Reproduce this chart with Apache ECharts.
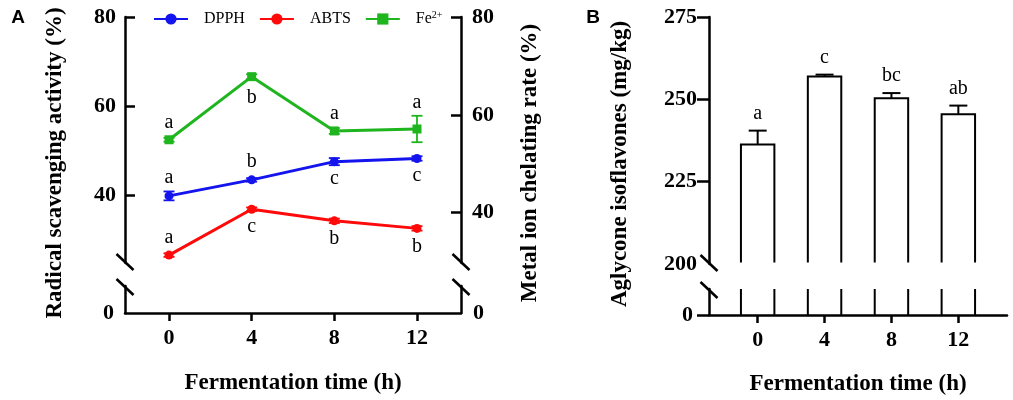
<!DOCTYPE html>
<html><head><meta charset="utf-8">
<script src="https://cdn.jsdelivr.net/npm/echarts@6/dist/echarts.min.js"></script>
<style>html,body{margin:0;padding:0;background:#fff}#c{width:1013px;height:400px}</style>
</head><body><div id="c"></div>
<script>
// ---------- data ----------
const times = [0, 4, 8, 12];
const dpph = [39.8, 43.4, 47.5, 48.2];
const dpphErr = [1.0, 0.4, 0.8, 0.5];
const dpphLetters = ['a', 'b', 'c', 'c'];
const abts = [26.5, 36.8, 34.2, 32.5];
const abtsErr = [0.4, 0.4, 0.5, 0.5];
const abtsLetters = ['a', 'c', 'b', 'b'];
const fe = [54.9, 67.8, 56.7, 57.1];
const feErr = [0.4, 0.5, 0.6, 2.7];
const feLetters = ['a', 'b', 'a', 'a'];
const aglycone = [236.3, 256.9, 250.3, 245.5];
const aglyconeErr = [4.2, 0.6, 1.6, 2.6];
const aglyconeLetters = ['a', 'c', 'bc', 'ab'];
const leftTicksA = [40, 60, 80];
const rightTicksA = [40, 60, 80];
const zeroTick = [0];
const ticksB = [225, 250, 275];
const labelsB = [200, 225, 250, 275];
const xTicks = [0, 4, 8, 12];
const seriesNames = ['DPPH', 'ABTS', 'Fe2+'];

// ---------- layout / style ----------
const SERIF = "'Liberation Serif','Times New Roman',serif";
const SANS = "'Liberation Sans',Arial,sans-serif";
const BLUE = '#1414ee', RED = '#ff0a0a', GREEN = '#1fb51f';
const A = {l: 125, r: 461, t: 17, ub: 263, lt: 286, lb: 313};
const B = {l: 709, r: 1007, t: 17, ub: 264, lt: 289, lb: 315};
const AX_LINE = {color: '#000', width: 2.5};
const A_X = [-2.13, 14.13], B_X = [-2.91, 14.91];
const A_LEFT = [24.72, 80], A_RIGHT = [29.7, 80], B_UP = [200, 275], LOW = [0, 10];
const TICK_FONT = 22, TITLE_FONT = 23;

const chart = echarts.init(document.getElementById('c'));

function xAxisCfg(grid, range, visible) {
  if (!visible) return {gridIndex: grid, type: 'value', min: range[0], max: range[1], show: false};
  return {
    gridIndex: grid, type: 'value', min: range[0], max: range[1],
    axisLine: {show: true, onZero: false, lineStyle: AX_LINE},
    axisTick: {show: true, customValues: xTicks, length: 8, inside: false, lineStyle: AX_LINE},
    axisLabel: {customValues: xTicks, margin: 14, color: '#000', fontFamily: SERIF, fontWeight: 'bold', fontSize: TICK_FONT},
    splitLine: {show: false}
  };
}
function yAxisCfg(grid, pos, range, ticks, labels, opts) {
  return {
    gridIndex: grid, type: 'value', position: pos, min: range[0], max: range[1],
    axisLine: {show: true, onZero: false, lineStyle: AX_LINE},
    axisTick: ticks ? {show: true, customValues: ticks, length: opts.len, inside: opts.inside, lineStyle: AX_LINE} : {show: false},
    axisLabel: {customValues: labels, margin: opts.margin, color: '#000', fontFamily: SERIF, fontWeight: 'bold', fontSize: TICK_FONT},
    splitLine: {show: false}
  };
}

function errSeries(xi, yi, vals, errs, color, cap, lw, upOnly) {
  return {
    type: 'custom', xAxisIndex: xi, yAxisIndex: yi, z: 4, silent: true,
    data: times.map((t, i) => [t, vals[i], errs[i]]),
    encode: {x: 0, y: 1},
    renderItem: function (params, api) {
      const x = api.value(0), v = api.value(1), e = api.value(2);
      const hi = api.coord([x, v + e]);
      const lo = api.coord([x, upOnly ? v : v - e]);
      const st = {stroke: color, lineWidth: lw};
      const ch = [
        {type: 'line', shape: {x1: hi[0], y1: hi[1], x2: lo[0], y2: lo[1]}, style: st},
        {type: 'line', shape: {x1: hi[0] - cap, y1: hi[1], x2: hi[0] + cap, y2: hi[1]}, style: st}
      ];
      if (!upOnly) ch.push({type: 'line', shape: {x1: lo[0] - cap, y1: lo[1], x2: lo[0] + cap, y2: lo[1]}, style: st});
      return {type: 'group', children: ch};
    }
  };
}

function letterSeries(xi, yi, vals, errs, letters, place, gapTop, gapBottom) {
  return {
    type: 'custom', xAxisIndex: xi, yAxisIndex: yi, z: 5, silent: true,
    data: times.map((t, i) => [t, vals[i], errs[i]]),
    encode: {x: 0, y: 1},
    renderItem: function (params, api) {
      const i = params.dataIndex;
      const x = api.value(0), v = api.value(1), e = api.value(2);
      const p = api.coord([x, v]);
      const ePx = api.size([0, e])[1];
      let y;
      if (place[i] === 'top') y = p[1] - Math.max(gapTop, ePx + 13);
      else y = p[1] + gapBottom;
      return {type: 'text', x: p[0], y: y, style: {text: letters[i], align: 'center', verticalAlign: 'middle',
        fontFamily: SERIF, fontSize: 20, fill: '#000'}};
    }
  };
}

function lineSeries(name, yi, vals, color, symbol, size) {
  return {
    name: name, type: 'line', xAxisIndex: 0, yAxisIndex: yi, z: 3,
    data: times.map((t, i) => [t, vals[i]]),
    symbol: symbol, symbolSize: size, showSymbol: true,
    lineStyle: {color: color, width: 3}, itemStyle: {color: color}
  };
}

function slash(cx, cy) {
  return {type: 'line', shape: {x1: cx - 8.5, y1: cy - 8, x2: cx + 8.5, y2: cy + 8},
    style: {stroke: '#000', lineWidth: 2.5}, z: 10};
}
function text(t, x, y, font, rot) {
  return {type: 'text', x: x, y: y, rotation: rot || 0, z: 10,
    style: {text: t, align: 'center', verticalAlign: 'middle', font: font, fill: '#000'}};
}

const option = {
  animation: false,
  backgroundColor: '#fff',
  grid: [
    {left: A.l, top: A.t, width: A.r - A.l, height: A.ub - A.t},
    {left: A.l, top: A.lt, width: A.r - A.l, height: A.lb - A.lt},
    {left: B.l, top: B.t, width: B.r - B.l, height: B.ub - B.t},
    {left: B.l, top: B.lt, width: B.r - B.l, height: B.lb - B.lt}
  ],
  xAxis: [
    xAxisCfg(0, A_X, false),
    xAxisCfg(1, A_X, true),
    xAxisCfg(2, B_X, false),
    xAxisCfg(3, B_X, true)
  ],
  yAxis: [
    yAxisCfg(0, 'left', A_LEFT, leftTicksA, leftTicksA, {len: 10, inside: true, margin: 9}),
    yAxisCfg(0, 'right', A_RIGHT, rightTicksA, rightTicksA, {len: 10, inside: true, margin: 11}),
    yAxisCfg(1, 'left', LOW, null, zeroTick, {margin: 11}),
    yAxisCfg(1, 'right', LOW, null, zeroTick, {margin: 12}),
    yAxisCfg(2, 'left', B_UP, ticksB, labelsB, {len: 12, inside: false, margin: 12}),
    yAxisCfg(3, 'left', LOW, zeroTick, zeroTick, {len: 12, inside: false, margin: 16})
  ],
  legend: {
    data: seriesNames, left: 153, top: 10, padding: 0, itemWidth: 34, itemHeight: 14, itemGap: 14,
    formatter: function (name) {
      return name === 'Fe2+' ? '{n|Fe}{s|2+}' : '{n|' + name + '}';
    },
    textStyle: {
      color: '#000',
      rich: {
        n: {fontFamily: SERIF, fontSize: 16, color: '#000', padding: [0, 0, 0, 11], lineHeight: 18},
        s: {fontFamily: SERIF, fontSize: 10, color: '#000', verticalAlign: 'top', lineHeight: 10}
      }
    }
  },
  series: [
    lineSeries('DPPH', 0, dpph, BLUE, 'circle', 9),
    lineSeries('ABTS', 0, abts, RED, 'circle', 9),
    lineSeries('Fe2+', 1, fe, GREEN, 'rect', 9),
    errSeries(0, 0, dpph, dpphErr, BLUE, 5.5, 1.8, false),
    errSeries(0, 0, abts, abtsErr, RED, 5.5, 1.8, false),
    errSeries(0, 1, fe, feErr, GREEN, 5.5, 1.8, false),
    letterSeries(0, 0, dpph, dpphErr, dpphLetters, ['top', 'top', 'bottom', 'bottom'], 18, 17),
    letterSeries(0, 0, abts, abtsErr, abtsLetters, ['top', 'bottom', 'bottom', 'bottom'], 17, 18),
    letterSeries(0, 1, fe, feErr, feLetters, ['top', 'bottom', 'top', 'top'], 17, 21),
    // Panel B: bars (upper segment)
    {
      type: 'custom', xAxisIndex: 2, yAxisIndex: 4, z: 3, silent: true,
      data: times.map((t, i) => [t, aglycone[i]]),
      encode: {x: 0, y: 1},
      renderItem: function (params, api) {
        const x = api.value(0), v = api.value(1);
        const hw = api.size([1, 0])[0];
        const top = api.coord([x, v]);
        const bot = api.coord([x, B_UP[0]]);
        return {type: 'polyline', shape: {points: [[top[0] - hw, bot[1] - 1.5], [top[0] - hw, top[1]], [top[0] + hw, top[1]], [top[0] + hw, bot[1] - 1.5]]},
          style: {stroke: '#000', lineWidth: 2, fill: null}};
      }
    },
    // Panel B: bars (lower segment)
    {
      type: 'custom', xAxisIndex: 3, yAxisIndex: 5, z: 3, silent: true,
      data: times.map((t, i) => [t, aglycone[i]]),
      encode: {x: 0},
      renderItem: function (params, api) {
        const x = api.value(0);
        const hw = api.size([1, 0])[0];
        const b = api.coord([x, LOW[0]]);
        const t = api.coord([x, LOW[1]]);
        const st = {stroke: '#000', lineWidth: 2};
        return {type: 'group', children: [
          {type: 'line', shape: {x1: b[0] - hw, y1: b[1], x2: b[0] - hw, y2: t[1]}, style: st},
          {type: 'line', shape: {x1: b[0] + hw, y1: b[1], x2: b[0] + hw, y2: t[1]}, style: st}
        ]};
      }
    },
    errSeries(2, 4, aglycone, aglyconeErr, '#000', 9, 2, true),
    {
      type: 'custom', xAxisIndex: 2, yAxisIndex: 4, z: 5, silent: true,
      data: times.map((t, i) => [t, aglycone[i] + aglyconeErr[i]]),
      encode: {x: 0, y: 1},
      renderItem: function (params, api) {
        const p = api.coord([api.value(0), api.value(1)]);
        return {type: 'text', x: p[0], y: p[1] - 17, style: {text: aglyconeLetters[params.dataIndex], align: 'center',
          verticalAlign: 'middle', fontFamily: SERIF, fontSize: 20, fill: '#000'}};
      }
    }
  ],
  graphic: [
    slash(A.l, A.ub - 1), slash(A.l, A.lt + 1), slash(A.r, A.ub - 1), slash(A.r, A.lt + 1),
    slash(B.l, B.ub - 1), slash(B.l, B.lt + 1),
    text('A', 18, 18, 'bold 19px ' + SANS),
    text('B', 593, 18, 'bold 19px ' + SANS),
    text('Radical scavenging activity (%)', 55, 163, 'bold ' + TITLE_FONT + 'px ' + SERIF, Math.PI / 2),
    text('Metal ion chelating rate (%)', 530, 163, 'bold ' + TITLE_FONT + 'px ' + SERIF, Math.PI / 2),
    text('Aglycone isoflavones (mg/kg)', 620, 164, 'bold ' + TITLE_FONT + 'px ' + SERIF, Math.PI / 2),
    text('Fermentation time (h)', (A.l + A.r) / 2, 383, 'bold ' + TITLE_FONT + 'px ' + SERIF),
    text('Fermentation time (h)', (B.l + B.r) / 2, 384, 'bold ' + TITLE_FONT + 'px ' + SERIF)
  ]
};
chart.setOption(option);
</script>
</body></html>
